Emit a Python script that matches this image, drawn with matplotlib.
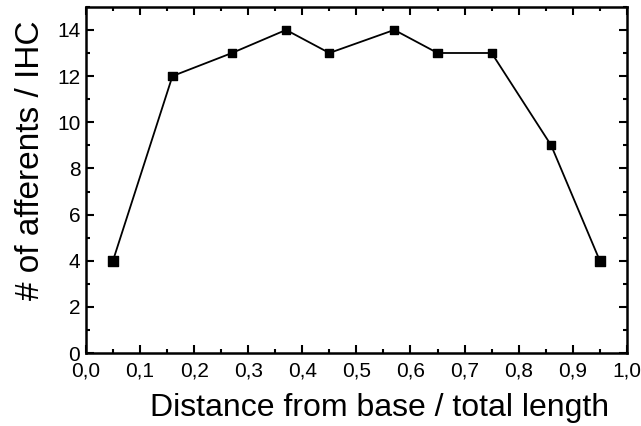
import matplotlib
matplotlib.use("Agg")
import matplotlib.pyplot as plt
from matplotlib.ticker import MultipleLocator, FuncFormatter

plt.rcParams['font.family'] = ['Liberation Sans', 'DejaVu Sans']

# distance from base / total length, afferents per IHC
dist = [0.05, 0.16, 0.27, 0.37, 0.45, 0.57, 0.65, 0.75, 0.86, 0.95]
afferents = [4, 12, 13, 14, 13, 14, 13, 13, 9, 4]

fig = plt.figure(figsize=(6.41, 4.26), dpi=100)
ax = fig.add_axes([0.134, 0.171, 0.844, 0.813])

ax.plot(dist, afferents, '-', color='black', lw=1.3)
sizes = [55 if (i == 0 or i == len(dist) - 1) else 35 for i in range(len(dist))]
ax.scatter(dist, afferents, s=sizes, marker='s', color='black', zorder=3)

ax.set_xlim(0, 1)
ax.set_ylim(0, 15)
ax.xaxis.set_major_locator(MultipleLocator(0.1))
ax.xaxis.set_minor_locator(MultipleLocator(0.05))
ax.yaxis.set_major_locator(MultipleLocator(2))
ax.yaxis.set_minor_locator(MultipleLocator(1))
ax.xaxis.set_major_formatter(FuncFormatter(lambda v, p: ('%.1f' % v).replace('.', ',')))

ax.tick_params(which='both', direction='in', top=True, right=True, width=1.5, labelsize=15, colors='black')
ax.tick_params(which='major', length=6)
ax.tick_params(axis='x', which='major', pad=6)
ax.tick_params(axis='y', which='major', pad=4)
ax.tick_params(which='minor', length=3)
for s in ax.spines.values():
    s.set_linewidth(1.8)

ax.set_xlabel('Distance from base / total length', fontsize=23, labelpad=8)
ax.xaxis.set_label_coords(0.543, -0.115, transform=ax.transAxes)
ax.xaxis.label.set_va('top')
ax.set_ylabel('# of afferents / IHC', fontsize=24, labelpad=8)
ax.yaxis.label.set_y(0.558)

fig.savefig('out.png', dpi=100)
